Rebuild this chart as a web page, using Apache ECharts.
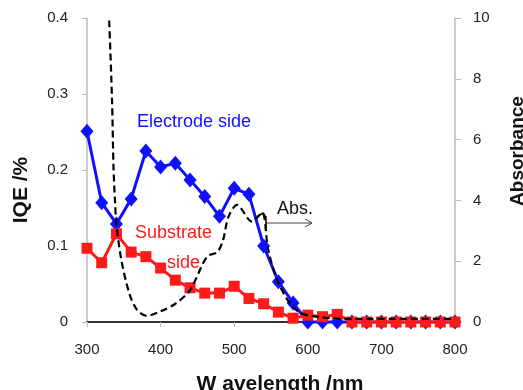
<!DOCTYPE html>
<html>
<head>
<meta charset="utf-8">
<script src="https://cdn.jsdelivr.net/npm/echarts@6/dist/echarts.min.js"></script>
<style>
  html, body { margin: 0; padding: 0; background: #fff; }
  #chart { width: 523px; height: 390px; }
</style>
</head>
<body>
<div id="chart"></div>
<script>
// wavelength grid for the IQE points (nm)
const wavelengths = [300, 320, 340, 360, 380, 400, 420, 440, 460, 480, 500, 520, 540,
  560, 580, 600, 620, 640, 660, 680, 700, 720, 740, 760, 780, 800]

// IQE (%)
const electrodeSide = [0.251, 0.157, 0.129, 0.162, 0.225, 0.204, 0.209, 0.187, 0.165, 0.139,
  0.176, 0.168, 0.100, 0.053, 0.025, 0, 0, 0, 0, 0, 0, 0, 0, 0, 0, 0]
const substrateSide = [0.097, 0.078, 0.116, 0.092, 0.086, 0.071, 0.055, 0.045, 0.038, 0.038,
  0.047, 0.031, 0.024, 0.013, 0.005, 0.009, 0.007, 0.010, 0, 0, 0, 0, 0, 0, 0, 0]

// absorbance curve (right axis)
const absWavelengths = [328, 330, 334, 336, 338, 340, 347, 358, 368, 381, 400, 420, 440, 463,
  477, 485, 492, 504, 524, 538, 546, 558, 576, 590, 605, 650, 800]
const absorbance = [11, 10, 7.3, 5.1, 4.0, 3.2, 2.0, 0.9, 0.4, 0.2, 0.35, 0.6, 1.05, 2.15,
  2.3, 2.7, 3.45, 3.85, 3.3, 3.6, 2.4, 1.4, 0.6, 0.3, 0.2, 0.1, 0.1]

const leftTicks = { min: 0, max: 0.4, interval: 0.1 }
const rightTicks = { min: 0, max: 10, interval: 2 }
const xTicks = { min: 300, max: 800, interval: 100 }

const BLUE = '#1010ff'
const RED = '#ff1a1a'
const FONT = 'Liberation Sans, Arial, sans-serif'

const zip = (xs, ys) => xs.map((x, i) => [x, ys[i]])

const chart = echarts.init(document.getElementById('chart'), null, { renderer: 'canvas' })

const axisGray = { lineStyle: { color: '#bdbdbd', width: 1.5 } }
const tickLabel = { color: '#222', fontSize: 15, fontFamily: FONT }

chart.setOption({
  animation: false,
  grid: { left: 87, right: 68, top: 18, bottom: 68, outerBoundsMode: 'none', containLabel: false },
  xAxis: [
    {
      type: 'value',
      ...xTicks,
      axisLine: axisGray,
      axisTick: { show: true, length: 5, lineStyle: { color: '#bdbdbd' } },
      axisLabel: { ...tickLabel, margin: 20 },
      splitLine: { show: false },
    },
    {
      type: 'value',
      position: 'top',
      ...xTicks,
      axisLine: { show: true, lineStyle: { color: '#000', width: 1.5 } },
      axisTick: { show: false },
      axisLabel: { show: false },
      splitLine: { show: false },
    },
  ],
  yAxis: [
    {
      type: 'value',
      ...leftTicks,
      axisLine: { show: true, ...axisGray },
      axisTick: { show: true, length: 5, lineStyle: { color: '#bdbdbd' } },
      axisLabel: { ...tickLabel, margin: 19 },
      splitLine: { show: false },
    },
    {
      type: 'value',
      ...rightTicks,
      position: 'right',
      axisLine: { show: true, ...axisGray },
      axisTick: { show: true, length: 6, lineStyle: { color: '#bdbdbd' } },
      axisLabel: { ...tickLabel, margin: 18 },
      splitLine: { show: false },
    },
  ],
  series: [
    {
      name: 'Electrode side',
      type: 'line',
      yAxisIndex: 0,
      data: zip(wavelengths, electrodeSide),
      symbol: 'diamond',
      symbolSize: [13, 15],
      lineStyle: { color: BLUE, width: 3 },
      itemStyle: { color: BLUE },
      clip: false,
      z: 2,
    },
    {
      name: 'Substrate side',
      type: 'line',
      yAxisIndex: 0,
      data: zip(wavelengths, substrateSide),
      symbol: 'rect',
      symbolSize: 11,
      lineStyle: { color: RED, width: 3 },
      itemStyle: { color: RED },
      clip: false,
      z: 3,
    },
    {
      name: 'Abs.',
      type: 'line',
      yAxisIndex: 1,
      data: zip(absWavelengths, absorbance),
      smooth: 0.3,
      showSymbol: false,
      lineStyle: { color: '#000', width: 2.2, type: [7, 4] },
      z: 4,
    },
  ],
  graphic: [
    // axis titles
    { type: 'text', x: 21, y: 190, rotation: Math.PI / 2,
      style: { text: 'IQE /%', fill: '#111', font: 'bold 21px ' + FONT, align: 'center', verticalAlign: 'middle' } },
    { type: 'text', x: 518, y: 151, rotation: Math.PI / 2,
      style: { text: 'Absorbance', fill: '#111', font: 'bold 19px ' + FONT, align: 'center', verticalAlign: 'middle' } },
    { type: 'text', x: 280, y: 384,
      style: { text: 'W avelength /nm', fill: '#111', font: 'bold 21px ' + FONT, align: 'center', verticalAlign: 'middle' } },
    // annotations
    { type: 'text', left: 137, top: 113,
      style: { text: 'Electrode side', fill: BLUE, font: '18px ' + FONT } },
    { type: 'text', left: 135, top: 224,
      style: { text: 'Substrate', fill: RED, font: '18px ' + FONT } },
    { type: 'text', left: 167, top: 254,
      style: { text: 'side', fill: RED, font: '18px ' + FONT } },
    { type: 'text', left: 277, top: 200,
      style: { text: 'Abs.', fill: '#111', font: '18px ' + FONT } },
    { type: 'line', shape: { x1: 266, y1: 223, x2: 312, y2: 223 },
      style: { stroke: '#444', lineWidth: 1 } },
    { type: 'polyline', shape: { points: [[305, 219], [312, 223], [305, 227]] },
      style: { stroke: '#444', lineWidth: 1, fill: null } },
    { type: 'polyline', shape: { points: [[258, 216], [263, 213], [266, 217], [266, 229]] },
      style: { stroke: '#000', lineWidth: 1.5, fill: null } },
  ],
})
</script>
</body>
</html>
